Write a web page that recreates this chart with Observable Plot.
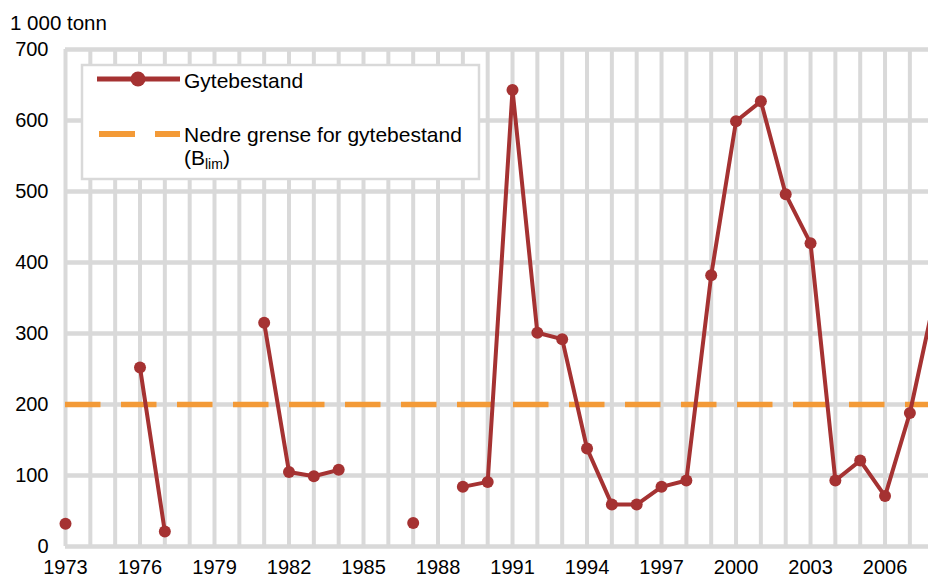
<!DOCTYPE html>
<html>
<head>
<meta charset="utf-8">
<script src="https://cdn.jsdelivr.net/npm/d3@7"></script>
<script src="https://cdn.jsdelivr.net/npm/@observablehq/plot@0.6"></script>
<style>
  html, body { margin: 0; padding: 0; background: #fff; }
  #chart svg { display: block; font-family: "Liberation Sans", Arial, sans-serif; }
</style>
</head>
<body>
<div id="chart"></div>
<script>
// ---- data ----
const years = [1973,1974,1975,1976,1977,1978,1979,1980,1981,1982,1983,1984,1985,1986,1987,1988,1989,1990,
               1991,1992,1993,1994,1995,1996,1997,1998,1999,2000,2001,2002,2003,2004,2005,2006,2007,2008];
const gytebestand = [32,null,null,252,21,null,null,null,315,105,99,108,null,null,33,null,84,91,
                     643,301,292,138,59,59,84,93,382,599,627,496,427,93,121,71,188,350];
const blim = 200;
const xTicks = [1973,1976,1979,1982,1985,1988,1991,1994,1997,2000,2003,2006];
const yTicks = [0,100,200,300,400,500,600,700];
const gridYears = years.filter(y => y <= 2007);
const unitLabel = "1 000 tonn";
const seriesLabel = "Gytebestand";
const limitLabel = "Nedre grense for gytebestand";

const data = years.map((y, i) => ({year: y, value: gytebestand[i]}));
const pts = data.filter(d => d.value != null && d.year <= 2007);

const red = "#A53232";
const orange = "#F39A37";
const grey = "#D9D9D9";

const plot = Plot.plot({
  width: 928,
  height: 578,
  marginLeft: 65,
  marginRight: 0,
  marginTop: 49,
  marginBottom: 32,
  style: {fontFamily: "'Liberation Sans', Arial, sans-serif", fontSize: "20px", color: "#000", background: "#fff"},
  x: {domain: [1973, 2007.75]},
  y: {domain: [0, 700]},
  marks: [
    Plot.gridX(gridYears, {stroke: grey, strokeOpacity: 1, strokeWidth: 4}),
    Plot.gridY(yTicks, {stroke: grey, strokeOpacity: 1, strokeWidth: 4.5}),
    Plot.ruleY([blim], {stroke: orange, strokeWidth: 5.5, strokeDasharray: "35.5,20.5"}),
    Plot.line(data, {x: "year", y: "value", stroke: red, strokeWidth: 4, clip: true}),
    Plot.dot(pts, {x: "year", y: "value", r: 6, fill: red, stroke: "none"}),
    Plot.axisX(xTicks, {tickSize: 0, tickPadding: 13, tickFormat: d => String(d), label: null, fontSize: 20}),
    Plot.axisY(yTicks, {tickSize: 0, tickPadding: 17, label: null, fontSize: 20})
  ]
});

const svg = d3.select(plot);
svg.append("text")
  .attr("x", 10).attr("y", 30)
  .attr("font-size", 20.5)
  .attr("text-anchor", "start")
  .attr("fill", "#000")
  .text(unitLabel);

// legend
const lg = svg.append("g").attr("text-anchor", "start");
lg.append("rect").attr("x", 82).attr("y", 65).attr("width", 397).attr("height", 114)
  .attr("fill", "#fff").attr("stroke", grey).attr("stroke-width", 2.5);
lg.append("line").attr("x1", 97).attr("x2", 180).attr("y1", 79).attr("y2", 79)
  .attr("stroke", red).attr("stroke-width", 5);
lg.append("circle").attr("cx", 138).attr("cy", 79).attr("r", 7.5).attr("fill", red);
lg.append("line").attr("x1", 99).attr("x2", 180).attr("y1", 134).attr("y2", 134)
  .attr("stroke", orange).attr("stroke-width", 6).attr("stroke-dasharray", "36,20");
lg.append("text").attr("x", 184).attr("y", 88).attr("font-size", 21).attr("fill", "#000").text(seriesLabel);
lg.append("text").attr("x", 184).attr("y", 142).attr("font-size", 21).attr("fill", "#000").text(limitLabel);
const t3 = lg.append("text").attr("x", 184).attr("y", 165).attr("font-size", 21).attr("fill", "#000");
t3.append("tspan").text("(B");
t3.append("tspan").attr("font-size", 14).attr("dy", 4).text("lim");
t3.append("tspan").attr("dy", -4).text(")");

document.getElementById("chart").appendChild(plot);
</script>
</body>
</html>
